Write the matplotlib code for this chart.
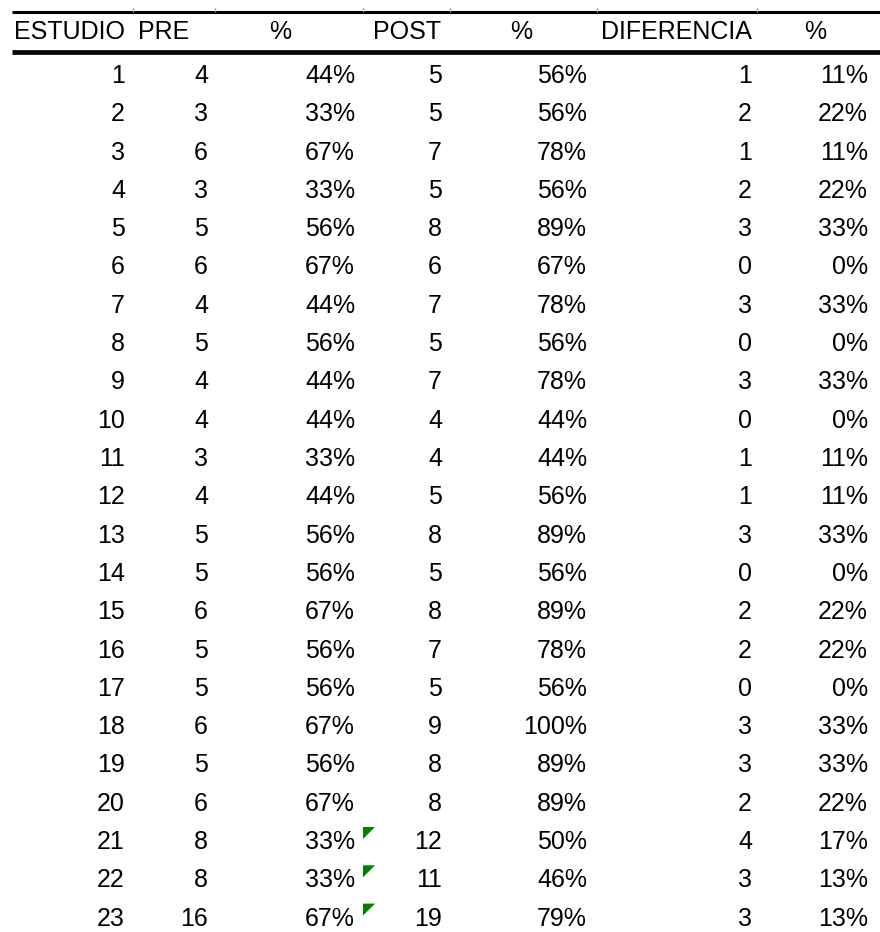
import matplotlib
matplotlib.use('Agg')
import matplotlib.pyplot as plt
from matplotlib.patches import Polygon

plt.rcParams['font.family'] = ['Liberation Sans', 'DejaVu Sans']

# Datos de la tabla
encabezados = ['ESTUDIO', 'PRE', '%', 'POST', '%', 'DIFERENCIA', '%']
estudio = list(range(1, 24))
pre = [4, 3, 6, 3, 5, 6, 4, 5, 4, 4, 3, 4, 5, 5, 6, 5, 5, 6, 5, 6, 8, 8, 16]
pre_pct = [44, 33, 67, 33, 56, 67, 44, 56, 44, 44, 33, 44, 56, 56, 67, 56, 56, 67, 56, 67, 33, 33, 67]
post = [5, 5, 7, 5, 8, 6, 7, 5, 7, 4, 4, 5, 8, 5, 8, 7, 5, 9, 8, 8, 12, 11, 19]
post_pct = [56, 56, 78, 56, 89, 67, 78, 56, 78, 44, 44, 56, 89, 56, 89, 78, 56, 100, 89, 89, 50, 46, 79]
diferencia = [1, 2, 1, 2, 3, 0, 3, 0, 3, 0, 1, 1, 3, 0, 2, 2, 0, 3, 3, 2, 4, 3, 3]
dif_pct = [11, 22, 11, 22, 33, 0, 33, 0, 33, 0, 11, 11, 33, 0, 22, 22, 0, 33, 33, 22, 17, 13, 13]
# filas con indicador verde (error de Excel) en la celda POST
marcadas = [21, 22, 23]

# Layout (pixeles)
W, H = 880, 932
bordes = [12, 133, 215, 363, 450, 597, 757, 880]
x_der = [125, 208, 355, 442, 587, 752, 868]
x_enc = [70, 164, 280, 407, 521, 676, 815]
y_enc = 39
y0 = 83
dy = 38.3
fs = 18

fig = plt.figure(figsize=(W / 100, H / 100), dpi=100)
ax = fig.add_axes([0, 0, 1, 1])
ax.set_xlim(0, W)
ax.set_ylim(H, 0)
ax.axis('off')

# lineas superiores
ax.plot([bordes[0], W], [12, 12], color='black', lw=2.2, solid_capstyle='butt')
ax.plot([bordes[0], W], [52, 52], color='black', lw=3.4, solid_capstyle='butt')
for b in bordes[1:-1]:
    ax.plot([b, b], [8, 11], color='#aaaaaa', lw=1)

for x, t in zip(x_enc, encabezados):
    ax.text(x, y_enc, t, ha='center', va='baseline', fontsize=fs)

columnas = [
    [str(v) for v in estudio],
    [str(v) for v in pre],
    [f'{v}%' for v in pre_pct],
    [str(v) for v in post],
    [f'{v}%' for v in post_pct],
    [str(v) for v in diferencia],
    [f'{v}%' for v in dif_pct],
]

for j, col in enumerate(columnas):
    for i, t in enumerate(col):
        ax.text(x_der[j], y0 + i * dy, t, ha='right', va='baseline', fontsize=fs)

for fila in marcadas:
    top = y0 + (fila - 1) * dy - 22
    x = bordes[3]
    ax.add_patch(Polygon([(x, top), (x + 12, top), (x, top + 12)],
                         closed=True, color='#008000', lw=0))

fig.savefig('out.png', dpi=100)
